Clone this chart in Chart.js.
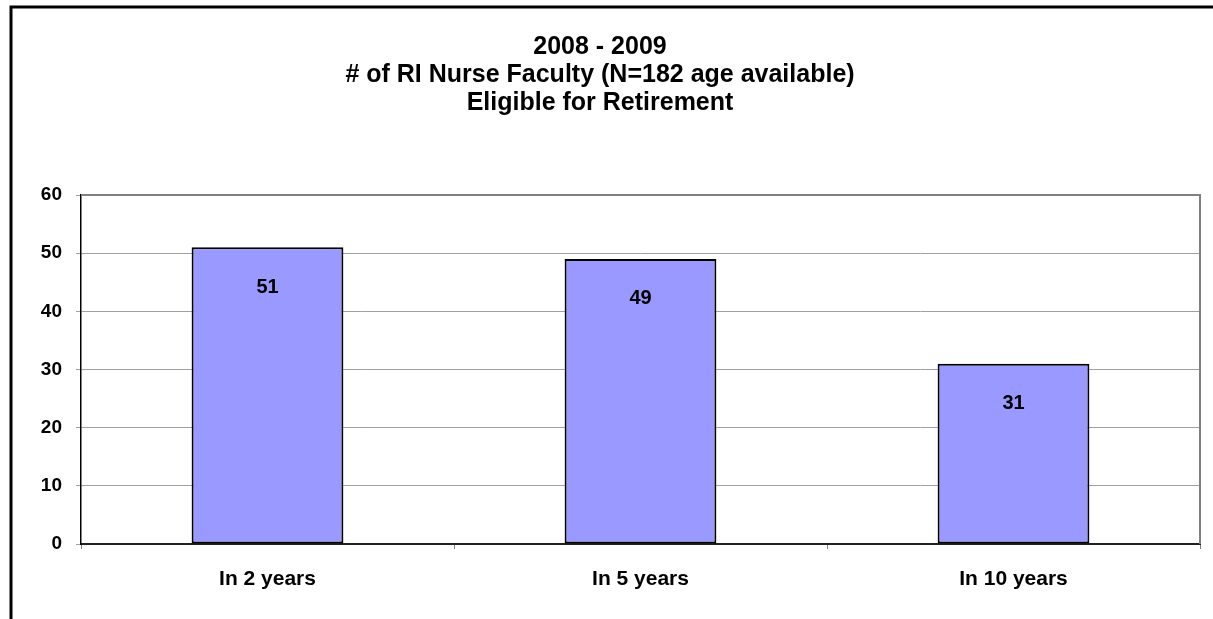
<!DOCTYPE html>
<html>
<head>
<meta charset="utf-8">
<script src="https://cdn.jsdelivr.net/npm/chart.js@4"></script>
<style>
  html, body { margin: 0; padding: 0; background: #fff; }
  #wrap { width: 1213px; height: 619px; }
</style>
</head>
<body>
<div id="wrap"><canvas id="c" width="1213" height="619"></canvas></div>
<script>
const categories = ["In 2 years", "In 5 years", "In 10 years"];
const faculty = [51, 49, 31];
const yTicks = [0, 10, 20, 30, 40, 50, 60];
const titleLines = ["2008 - 2009", "# of RI Nurse Faculty (N=182 age available)", "Eligible for Retirement"];

const FONT = "'Liberation Sans', Arial, Helvetica, sans-serif";

const framePlugin = {
  id: 'frame',
  beforeDraw(chart) {
    const ctx = chart.ctx;
    ctx.save();
    ctx.fillStyle = '#ffffff';
    ctx.fillRect(0, 0, chart.width, chart.height);
    ctx.strokeStyle = '#000000';
    ctx.lineWidth = 3;
    ctx.beginPath();
    ctx.moveTo(11, chart.height);
    ctx.lineTo(11, 7);
    ctx.lineTo(chart.width, 7);
    ctx.stroke();
    ctx.restore();
  },
  afterDatasetsDraw(chart) {
    const a = chart.chartArea;
    const ctx = chart.ctx;
    ctx.save();
    ctx.strokeStyle = '#808080';
    ctx.lineWidth = 2;
    ctx.beginPath();
    ctx.moveTo(a.left, a.top);
    ctx.lineTo(a.right, a.top);
    ctx.lineTo(a.right, a.bottom);
    ctx.stroke();
    // data labels
    const meta = chart.getDatasetMeta(0);
    ctx.fillStyle = '#000';
    ctx.font = "bold 20px " + FONT;
    ctx.textAlign = 'center';
    ctx.textBaseline = 'middle';
    meta.data.forEach((bar, i) => {
      ctx.fillText(String(chart.data.datasets[0].data[i]), bar.x, bar.y + 40);
    });
    ctx.restore();
  }
};

new Chart(document.getElementById('c'), {
  type: 'bar',
  data: {
    labels: categories,
    datasets: [{
      data: faculty,
      backgroundColor: '#9999ff',
      borderColor: '#000000',
      borderWidth: 2,
      borderSkipped: false,
      categoryPercentage: 1,
      barPercentage: 0.407
    }]
  },
  options: {
    responsive: false,
    devicePixelRatio: 1,
    animation: false,
    layout: { padding: { left: 0, right: 13, top: 0, bottom: 0 } },
    plugins: {
      legend: { display: false },
      tooltip: { enabled: false },
      title: {
        display: true,
        text: titleLines,
        color: '#000',
        font: { family: FONT, size: 25, weight: 'bold', lineHeight: 1.12 },
        padding: { top: 33, bottom: 78 }
      }
    },
    scales: {
      x: {
        grid: { display: true, drawOnChartArea: false, drawTicks: true, tickLength: 5, color: '#808080', offset: true },
        border: { display: true, color: '#222', width: 2 },
        ticks: { color: '#000', font: { family: FONT, size: 21, weight: 'bold' }, padding: 18 },
        afterFit(scale) { scale.height = 75; }
      },
      y: {
        min: 0,
        max: 60,
        afterBuildTicks(scale) { scale.ticks = yTicks.map(v => ({ value: v })); },
        grid: { color: '#a0a0a0', lineWidth: 1, tickLength: 5, drawTicks: true },
        border: { display: true, color: '#000', width: 1.5 },
        ticks: { color: '#000', font: { family: FONT, size: 19, weight: 'bold' }, padding: 14 },
        afterFit(scale) { scale.width = 81; }
      }
    }
  },
  plugins: [framePlugin]
});
</script>
</body>
</html>
